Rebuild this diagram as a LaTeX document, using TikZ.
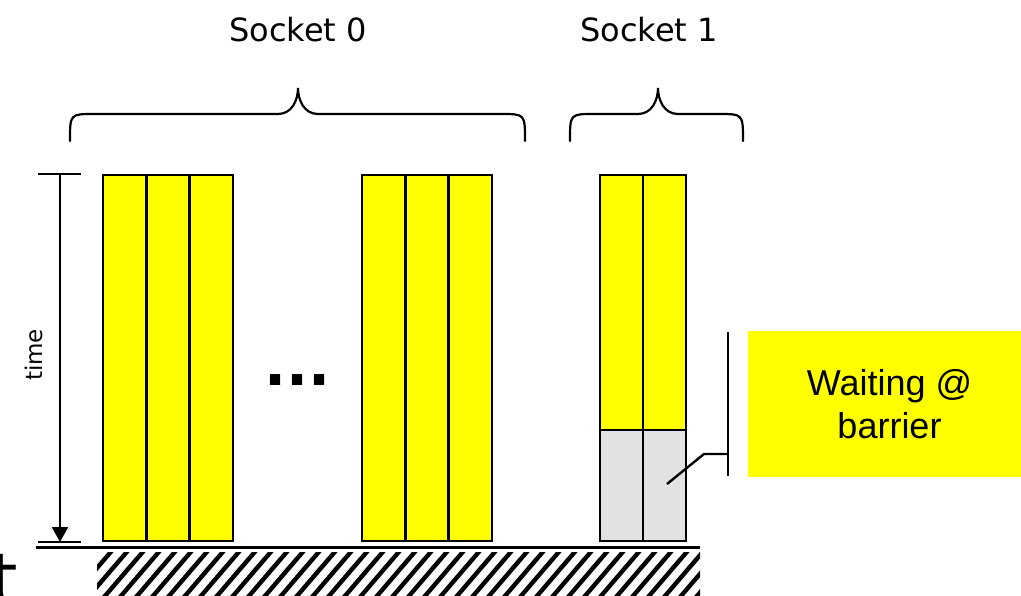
\documentclass[tikz,border=0pt]{standalone}
\usepackage{fontspec}
\setmainfont{DejaVu Sans}
\newfontfamily\arialfont{Liberation Sans}
\usetikzlibrary{arrows.meta}

\definecolor{coreyellow}{RGB}{255,255,0}
\definecolor{idlegray}{RGB}{226,226,226}

\tikzset{
  core/.style={draw, line width=2.4pt, fill=coreyellow},
  idle/.style={draw, line width=2.4pt, fill=idlegray},
  brace/.style={line width=2.2pt, line cap=round},
  hatch/.style={line width=4.4pt},
}

\begin{document}
\begin{tikzpicture}[x=1pt, y=-1pt]
\useasboundingbox (0,0) rectangle (1021,596);

% floor
\begin{scope}
\clip (97,552) rectangle (700,600);
\foreach \i in {0,...,42}
  \draw[hatch] (45+\i*16,610) -- ++(60,-70);
\end{scope}
\draw[line width=2.4pt] (36,547.5) -- (700,547.5);

% socket 0 cores
\foreach \g in {103,362}
  \foreach \c in {0,1,2}
    \draw[core] (\g+\c*43.33,175) rectangle ++(43.33,366);

% socket 1 cores
\foreach \c in {0,1} {
  \draw[core] (600+\c*43,175) rectangle ++(43,255);
  \draw[idle] (600+\c*43,430) rectangle ++(43,111);
}

\node[anchor=base, inner sep=0, font=\fontsize{58}{58}\selectfont\bfseries] (dots) at (297.5,385) {...};

% braces
\draw[brace] (70,141) .. controls (70,114) .. (94,114) -- (278,114)
  .. controls (292,114) and (298,100) .. (298,88)
  .. controls (298,100) and (304,114) .. (318,114) -- (501,114)
  .. controls (525,114) .. (525,141);
\draw[brace] (570,141) .. controls (570,114) .. (594,114) -- (638,114)
  .. controls (652,114) and (658,100) .. (658,88)
  .. controls (658,100) and (664,114) .. (678,114) -- (719,114)
  .. controls (743,114) .. (743,141);
\node[anchor=base, inner sep=0, font=\fontsize{32}{32}\selectfont] (s0) at (298,42) {Socket 0};
\node[anchor=base, inner sep=0, font=\fontsize{32}{32}\selectfont] (s1) at (649,42) {Socket 1};

% time axis
\coordinate (t0) at (60,174);
\coordinate (t1) at (60,542);
\draw[line width=2.4pt] (38,174) -- (81,174);
\draw[line width=2.4pt] (38,542) -- (81,542);
\draw[line width=2.4pt, -{Triangle[length=15pt,width=16pt]}] (t0) -- (t1);
\node[rotate=90, anchor=base, inner sep=0, font=\fontsize{23}{23}\selectfont] (time) at (42,355) {time};

\node[anchor=base west, inner sep=0, font=\fontsize{70}{70}\selectfont] (tfrag) at (-10,603) {t};

% callout
\node[fill=coreyellow, minimum width=283pt, minimum height=146pt, align=center,
  font=\arialfont\fontsize{36}{43}\selectfont] (wait) at (889.5,404) {Waiting @\\barrier};
\coordinate (b0) at (728,332);
\coordinate (b1) at (728,476);
\coordinate (k) at (728,454);
\coordinate (p) at (667,484);
\draw[line width=2.4pt] (b0) -- (b1);
\draw[line width=2.4pt] (k) -- (704,454) -- (p);

\end{tikzpicture}
\end{document}
